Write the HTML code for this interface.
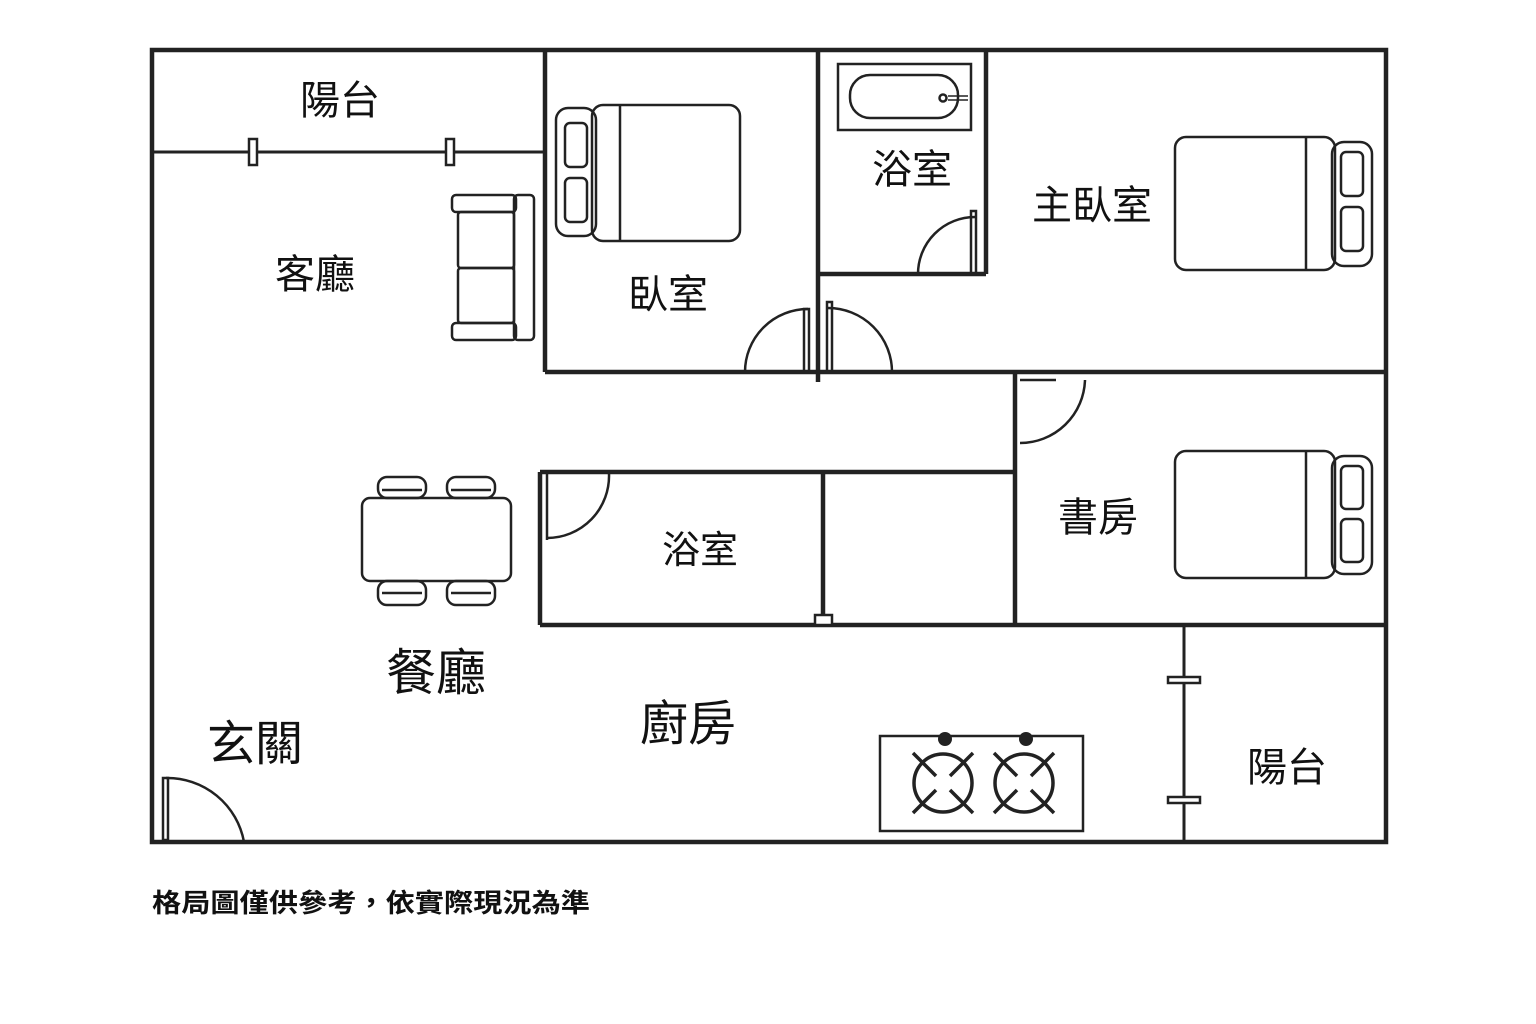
<!DOCTYPE html>
<html><head><meta charset="utf-8"><style>
html,body{margin:0;padding:0;background:#fff;}
svg{display:block;}
text{font-family:"Liberation Sans","Noto Sans CJK TC",sans-serif;fill:#111;}
</style></head><body>
<svg width="1536" height="1024" viewBox="0 0 1536 1024" xmlns="http://www.w3.org/2000/svg">
<g fill="none" stroke="#222" stroke-width="4.5">
<rect x="152" y="50" width="1234" height="792"/>
<line x1="152" y1="152" x2="545" y2="152" stroke-width="3"/>
<line x1="545" y1="50" x2="545" y2="372"/>
<line x1="545" y1="372" x2="1386" y2="372"/>
<line x1="818" y1="50" x2="818" y2="382"/>
<line x1="986" y1="50" x2="986" y2="274"/>
<line x1="818" y1="274" x2="986" y2="274"/>
<line x1="1015" y1="372" x2="1015" y2="625"/>
<line x1="540" y1="472" x2="1015" y2="472"/>
<line x1="540" y1="472" x2="540" y2="625"/>
<line x1="540" y1="625" x2="1386" y2="625"/>
<line x1="823" y1="472" x2="823" y2="618"/>
<line x1="1184" y1="625" x2="1184" y2="842" stroke-width="3"/>
</g>
<g fill="#fff" stroke="#222" stroke-width="2.5">
<rect x="249" y="139" width="8" height="26"/>
<rect x="446" y="139" width="8" height="26"/>
<rect x="815" y="615" width="17" height="10"/>
<rect x="1168" y="677" width="32" height="6"/>
<rect x="1168" y="797" width="32" height="6"/>
</g>
<g fill="none" stroke="#222" stroke-width="2.5">
<path d="M745 372 A63 63 0 0 1 808 309"/><rect x="804" y="309" width="5" height="63"/>
<path d="M892 372 A64 64 0 0 0 828 308"/><rect x="827" y="302" width="5" height="70"/>
<path d="M918 274 A57 57 0 0 1 975 217"/><rect x="971" y="211" width="5" height="63"/>
<path d="M1085 380 A65 65 0 0 1 1020 443"/><line x1="1020" y1="380" x2="1056" y2="380"/>
<path d="M609 474 A62 62 0 0 1 547 538"/><line x1="547" y1="474" x2="547" y2="540"/>
<path d="M166 778 A78 78 0 0 1 244 842"/><rect x="163" y="778" width="5" height="62"/>
<rect x="556" y="108" width="40" height="128" rx="12"/>
<rect x="565" y="123" width="22" height="44" rx="5"/>
<rect x="565" y="178" width="22" height="44" rx="5"/>
<rect x="592" y="105" width="148" height="136" rx="11"/>
<line x1="620" y1="105" x2="620" y2="241"/>
<rect x="1175" y="137" width="160" height="133" rx="11"/>
<rect x="1332" y="142" width="40" height="124" rx="12"/>
<rect x="1341" y="152" width="22" height="44" rx="5"/>
<rect x="1341" y="207" width="22" height="44" rx="5"/>
<line x1="1306" y1="137" x2="1306" y2="270"/>
<rect x="1175" y="451" width="160" height="127" rx="11"/>
<rect x="1332" y="456" width="40" height="118" rx="12"/>
<rect x="1341" y="466" width="22" height="43" rx="5"/>
<rect x="1341" y="519" width="22" height="43" rx="5"/>
<line x1="1306" y1="451" x2="1306" y2="578"/>
<rect x="838" y="64" width="133" height="66"/>
<rect x="850" y="75" width="108" height="43" rx="20"/>
<circle cx="943" cy="98" r="3.5"/>
<line x1="948" y1="96" x2="968" y2="96" stroke-width="1.5"/><line x1="948" y1="100" x2="968" y2="100" stroke-width="1.5"/>
<rect x="514" y="195" width="20" height="145" rx="4"/>
<rect x="452" y="195" width="64" height="17" rx="4"/>
<rect x="452" y="323" width="64" height="17" rx="4"/>
<rect x="458" y="212" width="56" height="56" rx="3"/>
<rect x="458" y="268" width="56" height="55" rx="3"/>
<rect x="362" y="498" width="149" height="83" rx="8"/>
<rect x="378" y="477" width="48" height="21" rx="9"/>
<rect x="447" y="477" width="48" height="21" rx="9"/>
<rect x="378" y="581" width="48" height="24" rx="9"/>
<rect x="447" y="581" width="48" height="24" rx="9"/>
<line x1="382" y1="490" x2="422" y2="490"/><line x1="451" y1="490" x2="491" y2="490"/>
<line x1="382" y1="593" x2="422" y2="593"/><line x1="451" y1="593" x2="491" y2="593"/>
<rect x="880" y="736" width="203" height="95"/>
<g stroke-width="3.5">
<circle cx="943" cy="783" r="29"/><circle cx="1024" cy="783" r="29"/>
<path d="M913 753 L936 776 M973 753 L950 776 M913 813 L936 790 M973 813 L950 790"/>
<path d="M994 753 L1017 776 M1054 753 L1031 776 M994 813 L1017 790 M1054 813 L1031 790"/>
</g>
</g>
<circle cx="945" cy="739" r="7" fill="#222"/><circle cx="1026" cy="739" r="7" fill="#222"/>
<g font-size="40" text-anchor="middle">
<text x="340" y="114">陽台</text>
<text x="315" y="288">客廳</text>
<text x="668" y="308">臥室</text>
<text x="912" y="183">浴室</text>
<text x="1092" y="219">主臥室</text>
<text x="1098" y="531">書房</text>
<text x="700" y="563" font-size="38">浴室</text>
<text x="1287" y="781">陽台</text>
<text x="436" y="690" font-size="50">餐廳</text>
<text x="255" y="760" font-size="48">玄關</text>
<text x="688" y="740" font-size="48">廚房</text>
</g>
<text x="152" y="912" font-size="26" font-weight="bold" textLength="438" lengthAdjust="spacingAndGlyphs">格局圖僅供參考，依實際現況為準</text>
</svg>
</body></html>
